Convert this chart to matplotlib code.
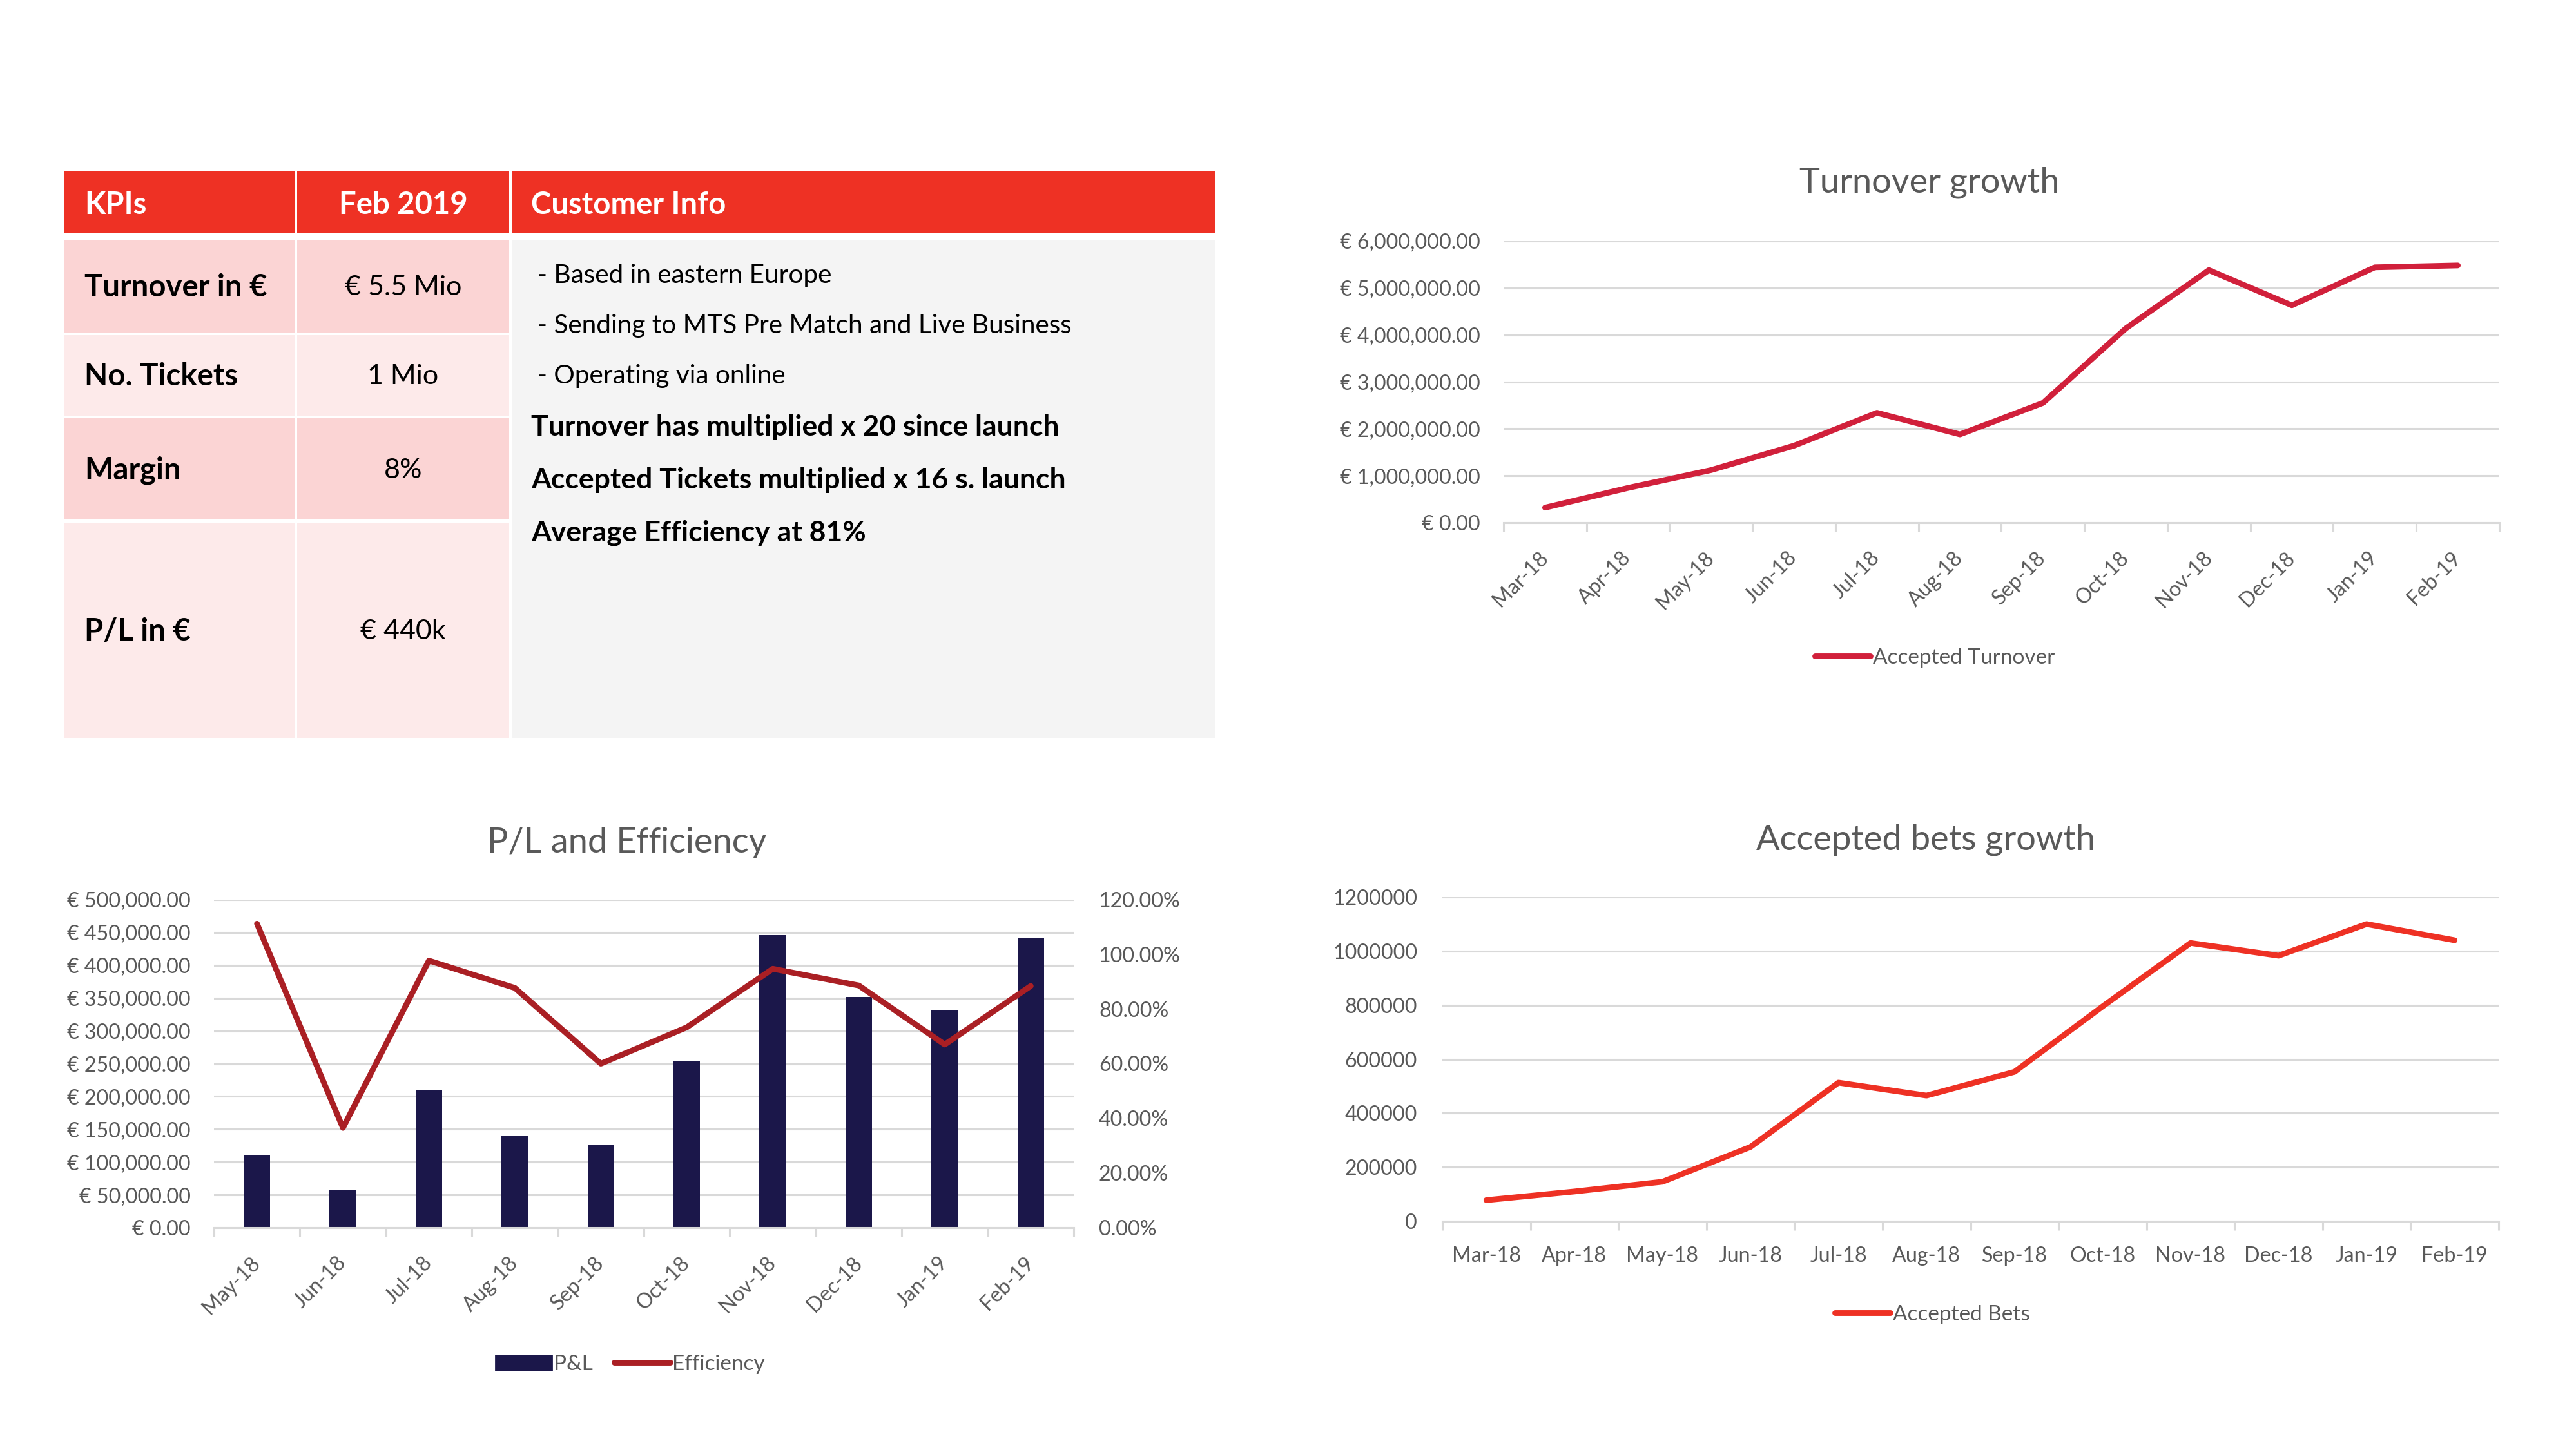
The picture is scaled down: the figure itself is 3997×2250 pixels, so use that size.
import matplotlib

matplotlib.use("Agg")
import matplotlib.pyplot as plt
import numpy as np
from matplotlib.lines import Line2D
from matplotlib.patches import Patch, Rectangle
from matplotlib.ticker import FuncFormatter, MultipleLocator

# ---------------------------------------------------------------------------
# Data
# ---------------------------------------------------------------------------
kpi_headers = ["KPIs", "Feb 2019", "Customer Info"]
kpi_labels = ["Turnover in €", "No. Tickets", "Margin", "P/L in €"]
kpi_values = ["€ 5.5 Mio", "1 Mio", "8%", "€ 440k"]
info_bullets = [
    "- Based in eastern Europe",
    "- Sending to MTS Pre Match and Live Business",
    "- Operating via online",
]
info_highlights = [
    "Turnover has multiplied x 20 since launch",
    "Accepted Tickets multiplied x 16 s. launch",
    "Average Efficiency at 81%",
]

months = ["Mar-18", "Apr-18", "May-18", "Jun-18", "Jul-18", "Aug-18",
          "Sep-18", "Oct-18", "Nov-18", "Dec-18", "Jan-19", "Feb-19"]
turnover = [320000, 740000, 1120000, 1640000, 2340000, 1880000,
            2550000, 4140000, 5380000, 4630000, 5440000, 5480000]
accepted_bets = [78000, 110000, 146000, 275000, 513000, 465000,
                 553000, 795000, 1030000, 983000, 1100000, 1040000]

pl_months = months[2:]
pl = [111000, 57500, 209000, 140000, 127000, 254000,
      446000, 352000, 331000, 442000]
efficiency = [111.2, 36.5, 97.7, 87.7, 60.0, 73.3, 94.7, 88.6, 67.0, 88.4]

# ---------------------------------------------------------------------------
# Style
# ---------------------------------------------------------------------------
W, H, DPI = 3998, 2250, 200
plt.rcParams["font.family"] = ["Lato", "DejaVu Sans"]

TEXT_GREY = "#595959"
GRID_GREY = "#D9D9D9"
HEADER_RED = "#EE3124"
ROW_PINK = ["#FBD4D4", "#FDEAEA", "#FBD4D4", "#FDEAEA"]
INFO_BG = "#F4F4F4"
TURNOVER_RED = "#D1203B"
BETS_RED = "#EE3124"
PL_NAVY = "#1B174A"
EFF_RED = "#AA1F24"

TICK_SIZE = 11.6
LEGEND_SIZE = 12
TITLE_SIZE = 19.5
LINE_W = 3.2


def px_axes(fig, left, top, right, bottom):
    """Add axes from pixel bounds (origin top-left)."""
    return fig.add_axes([left / W, 1 - bottom / H, (right - left) / W, (bottom - top) / H])


def style_axes(ax, n, labels, rotate, xpad, ypad):
    ax.set_xlim(-0.5, n - 0.5)
    ax.grid(axis="y", color=GRID_GREY, linewidth=1.1)
    ax.set_axisbelow(True)
    for side in ("top", "right", "left"):
        ax.spines[side].set_visible(False)
    ax.spines["bottom"].set_color(GRID_GREY)
    ax.spines["bottom"].set_linewidth(1.1)
    ax.set_xticks(np.arange(n))
    if rotate:
        ax.set_xticklabels(labels, rotation=45, ha="right", va="center",
                           rotation_mode="anchor")
    else:
        ax.set_xticklabels(labels)
    ax.set_xticks(np.arange(-0.5, n), minor=True)
    ax.tick_params(axis="x", which="major", length=0, pad=xpad,
                   labelsize=TICK_SIZE, labelcolor=TEXT_GREY)
    ax.tick_params(axis="x", which="minor", length=5, width=1.1, color=GRID_GREY)
    ax.tick_params(axis="y", length=0, pad=ypad, labelsize=TICK_SIZE,
                   labelcolor=TEXT_GREY)


def add_legend(ax, cx, cy, **kw):
    ax.legend(loc="center", bbox_to_anchor=(cx / W, 1 - cy / H),
              bbox_transform=fig.transFigure, frameon=False, fontsize=LEGEND_SIZE,
              handlelength=2.6, handletextpad=0.1, labelcolor=TEXT_GREY, **kw)


euro_fmt = FuncFormatter(lambda v, _: f"€ {v:,.2f}")

fig = plt.figure(figsize=(W / DPI, H / DPI), dpi=DPI)

# ---------------------------------------------------------------------------
# KPI table
# ---------------------------------------------------------------------------
tab = fig.add_axes([0, 0, 1, 1])
tab.set_xlim(0, W)
tab.set_ylim(H, 0)
tab.axis("off")

cols = [(100, 457), (461, 790), (795, 1885)]
header = (266, 361)
rows = [(373, 516), (520, 645), (649, 806), (811, 1145)]

for (x0, x1) in cols:
    tab.add_patch(Rectangle((x0, header[0]), x1 - x0, header[1] - header[0],
                            color=HEADER_RED, lw=0))
hy = sum(header) / 2 + 4
tab.text(131, hy, kpi_headers[0], color="white", fontsize=17,
         fontweight="bold", va="center", ha="left")
tab.text(sum(cols[1]) / 2, hy, kpi_headers[1], color="white",
         fontsize=17, fontweight="bold", va="center", ha="center")
tab.text(824, hy, kpi_headers[2], color="white", fontsize=17,
         fontweight="bold", va="center", ha="left")

for (y0, y1), colour, label, value in zip(rows, ROW_PINK, kpi_labels, kpi_values):
    for (x0, x1) in cols[:2]:
        tab.add_patch(Rectangle((x0, y0), x1 - x0, y1 - y0, color=colour, lw=0))
    tab.text(131, (y0 + y1) / 2 + 2, label, fontsize=17, fontweight="bold",
             va="center", ha="left", color="black")
    tab.text(sum(cols[1]) / 2, (y0 + y1) / 2 + 2, value, fontsize=15.5,
             va="center", ha="center", color="black")

tab.add_patch(Rectangle((cols[2][0], rows[0][0]), cols[2][1] - cols[2][0],
                        rows[-1][1] - rows[0][0], color=INFO_BG, lw=0))
for i, line in enumerate(info_bullets):
    tab.text(834, 427 + i * 78, line, fontsize=14.6, va="center", ha="left",
             color="black")
for i, line in enumerate(info_highlights):
    tab.text(824, 663 + i * 82, line, fontsize=16, fontweight="bold",
             va="center", ha="left", color="black")

# ---------------------------------------------------------------------------
# Turnover growth
# ---------------------------------------------------------------------------
ax = px_axes(fig, 2333, 374, 3878, 811)
x = np.arange(len(months))
ax.plot(x, turnover, color=TURNOVER_RED, lw=LINE_W, solid_capstyle="round",
        solid_joinstyle="round", label="Accepted Turnover", zorder=3)
ax.set_ylim(0, 6000000)
ax.yaxis.set_major_locator(MultipleLocator(1000000))
ax.yaxis.set_major_formatter(euro_fmt)
style_axes(ax, len(months), months, rotate=True, xpad=18, ypad=13)
fig.text(2994 / W, 1 - 283 / H, "Turnover growth", fontsize=TITLE_SIZE,
         color=TEXT_GREY, ha="center", va="center")
add_legend(ax, 3002, 1021)

# ---------------------------------------------------------------------------
# Accepted bets growth
# ---------------------------------------------------------------------------
ax = px_axes(fig, 2238, 1392, 3877, 1895)
ax.plot(x, accepted_bets, color=BETS_RED, lw=LINE_W, solid_capstyle="round",
        solid_joinstyle="round", label="Accepted Bets", zorder=3)
ax.set_ylim(0, 1200000)
ax.yaxis.set_major_locator(MultipleLocator(200000))
ax.yaxis.set_major_formatter(FuncFormatter(lambda v, _: f"{v:.0f}"))
style_axes(ax, len(months), months, rotate=False, xpad=14, ypad=14)
fig.text(2988 / W, 1 - 1303 / H, "Accepted bets growth", fontsize=TITLE_SIZE,
         color=TEXT_GREY, ha="center", va="center")
add_legend(ax, 2998, 2040)

# ---------------------------------------------------------------------------
# P/L and Efficiency
# ---------------------------------------------------------------------------
ax = px_axes(fig, 332, 1396, 1666, 1905)
xp = np.arange(len(pl_months))
ax.bar(xp, pl, width=0.31, color=PL_NAVY, zorder=2)
ax.set_ylim(0, 500000)
ax.yaxis.set_major_locator(MultipleLocator(50000))
ax.yaxis.set_major_formatter(euro_fmt)
style_axes(ax, len(pl_months), pl_months, rotate=True, xpad=18, ypad=13)

ax2 = ax.twinx()
ax2.plot(xp, efficiency, color=EFF_RED, lw=LINE_W, solid_capstyle="round",
         solid_joinstyle="round", zorder=3)
ax2.set_ylim(0, 120)
ax2.yaxis.set_major_locator(MultipleLocator(20))
ax2.yaxis.set_major_formatter(FuncFormatter(lambda v, _: f"{v:.2f}%"))
for side in ax2.spines:
    ax2.spines[side].set_visible(False)
ax2.tick_params(axis="y", length=0, pad=14, labelsize=TICK_SIZE, labelcolor=TEXT_GREY)

fig.text(973 / W, 1 - 1308 / H, "P/L and Efficiency", fontsize=TITLE_SIZE,
         color=TEXT_GREY, ha="center", va="center")
handles = [Patch(color=PL_NAVY, label="P&L"),
           Line2D([], [], color=EFF_RED, lw=LINE_W, solid_capstyle="round",
                  label="Efficiency")]
ax2.legend(handles=handles, loc="center", bbox_to_anchor=(978 / W, 1 - 2117 / H),
           bbox_transform=fig.transFigure, frameon=False, fontsize=LEGEND_SIZE,
           ncol=2, handlelength=2.6, handletextpad=0.1, columnspacing=1.0,
           labelcolor=TEXT_GREY)

fig.savefig("out.png", dpi=DPI, facecolor="white")
